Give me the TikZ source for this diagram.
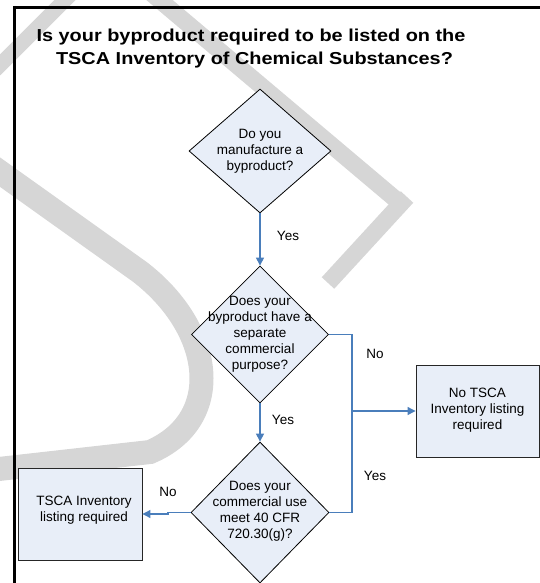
\documentclass[tikz,border=0pt]{standalone}
\usepackage{fontspec}
\setmainfont{Liberation Sans}
\newfontfamily\titlefont[FakeStretch=1.15]{Liberation Sans Bold}
\usetikzlibrary{shapes.geometric,arrows.meta}
\definecolor{fillblue}{HTML}{E8EEF8}
\definecolor{conn}{HTML}{4A7EBB}
\definecolor{wmgray}{HTML}{D6D6D6}
\tikzset{
  dia/.style={diamond,draw=black,line width=0.8pt,fill=fillblue,inner sep=0pt,aspect=1},
  box/.style={rectangle,draw=black!85,line width=0.9pt,fill=fillblue,inner sep=0pt},
  txt/.style={align=center,inner sep=0pt,font=\fontsize{13.5}{16}\selectfont},
  lbl/.style={inner sep=0pt,anchor=base,font=\fontsize{13.5}{16}\selectfont},
  link/.style={draw=conn,line width=1.1pt},
  arr/.style={link,-{Triangle[length=8pt,width=8pt]}},
  frame/.style={line width=3pt,black},
  wm/.style={draw=wmgray,line cap=butt,line join=miter}
}
\begin{document}
\begin{tikzpicture}[x=1pt,y=-1pt]
\useasboundingbox (0,0) rectangle (540,583);
% watermark
\begin{scope}
\clip (0,0) rectangle (540,583);
\draw[wm,line width=15pt] (75,-10) -- (-5,70);
\draw[wm,line width=17pt] (150,-8) -- (400,203);
\draw[wm,line width=17pt] (407,197) -- (328,283);
\draw[wm,line width=24pt] (-10,165) -- (140,272) .. controls (215,330) and (225,420) .. (150,452) -- (-10,470);
\end{scope}
% frame
\draw[frame] (13,7.5) -- (540,7.5);
\draw[frame] (14.5,6) -- (14.5,583);
% title
\node[inner sep=0pt,anchor=base,font=\titlefont\fontsize{17.3}{23.5}\selectfont] (t1) at (251,41.7) {Is your byproduct required to be listed on the};
\node[inner sep=0pt,anchor=base,font=\titlefont\fontsize{17.3}{23.5}\selectfont] (t2) at (254.5,65) {TSCA Inventory of Chemical Substances?};
% diamonds
\node[dia,minimum width=142pt,minimum height=124pt] (d1) at (260,151) {};
\node[txt] (d1t) at (260,151) {Do you\\manufacture a\\byproduct?};
\node[dia,minimum width=137pt,minimum height=137pt] (d2) at (260,334.5) {};
\node[txt] (d2t) at (260,334.5) {Does your\\byproduct have a\\separate\\commercial\\purpose?};
\node[dia,minimum width=138pt,minimum height=141pt] (d3) at (260,512.5) {};
\node[txt] (d3t) at (260,511) {Does your\\commercial use\\meet 40 CFR\\720.30(g)?};
% boxes
\node[box,minimum width=123pt,minimum height=92pt] (b1) at (477.5,411) {};
\node[txt] (b1t) at (477.5,410.5) {No TSCA\\Inventory listing\\required};
\node[box,minimum width=124pt,minimum height=92pt] (b2) at (80,514) {};
\node[txt] (b2t) at (84,510) {TSCA Inventory\\listing required};
% connectors
\coordinate (c1) at (352,334.5);
\coordinate (c2) at (352,411);
\coordinate (c3) at (168,512.5);
\draw[arr] (d1.south) -- (d2.north);
\draw[arr] (d2.south) -- (d3.north);
\draw[link] (d2.east) -- (c1) |- (d3.east);
\draw[arr] (c2) -- (b1.west);
\draw[arr] (d3.west) -- (c3) |- (b2.east);
% labels
\node[lbl] (y1) at (288,240) {Yes};
\node[lbl] (y2) at (283,424) {Yes};
\node[lbl] (n1) at (375,358) {No};
\node[lbl] (y3) at (375,480) {Yes};
\node[lbl] (n2) at (168,496) {No};
\end{tikzpicture}
\end{document}
